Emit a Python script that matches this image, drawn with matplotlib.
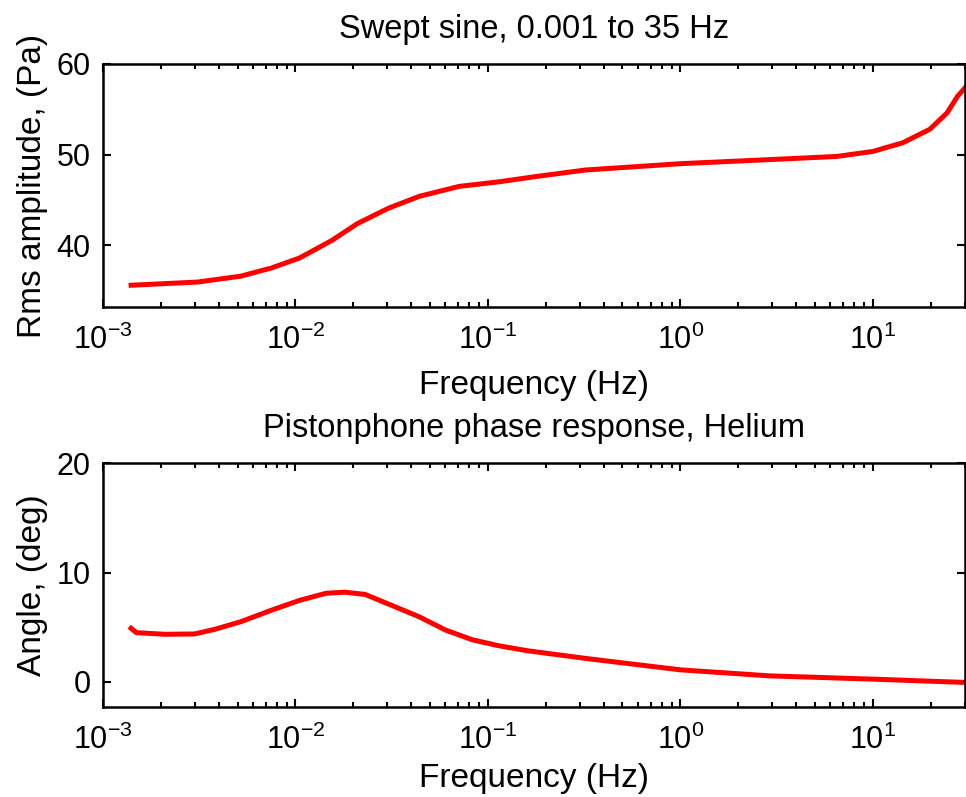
import matplotlib
matplotlib.use("Agg")
import matplotlib.pyplot as plt

# Rms amplitude
AMP_FREQ = [1.4e-3, 3.1e-3, 5.2e-3, 7.5e-3, 1.05e-2, 1.55e-2, 2.1e-2, 3.05e-2,
            4.4e-2, 7.1e-2, 0.114, 0.18, 0.32, 1.0, 2.9, 6.5, 10.0, 14.3,
            19.8, 24.3, 27.5, 30.5]
AMP_PA = [35.6, 35.95, 36.6, 37.5, 38.6, 40.55, 42.4, 44.1,
          45.4, 46.5, 47.0, 47.6, 48.3, 49.0, 49.45, 49.8, 50.35, 51.3,
          52.8, 54.6, 56.4, 57.5]

# Phase angle trace
PH_FREQ = [1.4e-3, 1.49e-3, 2.1e-3, 3.0e-3, 3.8e-3, 5.2e-3, 7.5e-3, 1.05e-2,
           1.44e-2, 1.8e-2, 2.3e-2, 3.16e-2, 4.4e-2, 6.0e-2, 8.3e-2, 0.114,
           0.16, 0.32, 1.0, 2.9, 10.0, 30.0]
PH_DEG = [4.9, 4.5, 4.35, 4.38, 4.8, 5.5, 6.55, 7.45,
          8.1, 8.2, 8.0, 7.0, 5.95, 4.75, 3.85, 3.3,
          2.85, 2.15, 1.1, 0.55, 0.25, -0.05]

XLIM = (1e-3, 30)
XTICKS = [1e-3, 1e-2, 1e-1, 1e0, 1e1]

plt.rcParams['font.family'] = ['Liberation Sans', 'DejaVu Sans']
plt.rcParams['mathtext.fontset'] = 'custom'
plt.rcParams['mathtext.rm'] = 'Liberation Sans'
plt.rcParams['mathtext.it'] = 'Liberation Sans'
plt.rcParams['mathtext.default'] = 'regular'

fig = plt.figure(figsize=(9.66, 7.97), dpi=100)
ax1 = fig.add_axes([0.1066, 0.6148, 0.892, 0.305])
ax2 = fig.add_axes([0.1066, 0.1129, 0.892, 0.306])


def style_axes(ax, labelpad):
    ax.set_xscale('log')
    ax.set_xlim(*XLIM)
    ax.set_xticks(XTICKS)
    for side in ax.spines.values():
        side.set_linewidth(1.8)
    ax.tick_params(which='both', direction='in', top=True, right=True,
                   width=1.5, labelsize=22)
    ax.tick_params(which='major', length=6)
    ax.tick_params(which='minor', length=3.5)
    ax.tick_params(axis='x', which='major', pad=13)
    ax.tick_params(axis='y', which='major', pad=9)
    ax.set_xlabel('Frequency (Hz)', fontsize=24, labelpad=labelpad)


ax1.plot(AMP_FREQ, AMP_PA, color='red', linewidth=3.6)
style_axes(ax1, 10)
ax1.set_ylim(33.2, 60)
ax1.set_yticks([40, 50, 60])
ax1.set_ylabel('Rms amplitude, (Pa)', fontsize=24, labelpad=6)
ax1.set_title('Swept sine, 0.001 to 35 Hz', fontsize=23.5, pad=19)

ax2.plot(PH_FREQ, PH_DEG, color='red', linewidth=3.6)
style_axes(ax2, 5)
ax2.set_ylim(-2.3, 20)
ax2.set_yticks([0, 10, 20])
ax2.set_ylabel('Angle, (deg)', fontsize=24, labelpad=6)
ax2.set_title('Pistonphone phase response, Helium', fontsize=23.5, pad=19)

fig.savefig('out.png', dpi=100)
